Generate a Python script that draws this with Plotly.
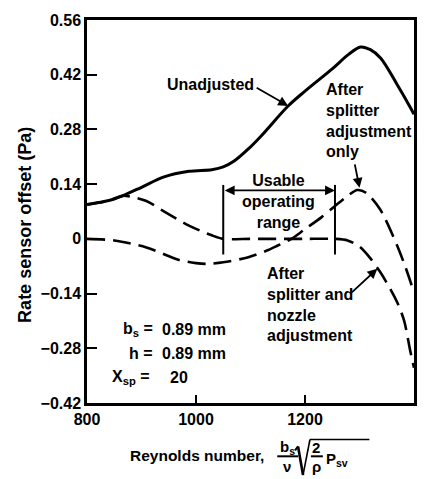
import plotly.graph_objects as go

# Reynolds number samples and rate sensor offset (Pa) for each condition
re_unadjusted = [800, 840, 865, 900, 940, 987, 1029, 1050, 1070, 1096, 1120, 1169, 1200,
                 1250, 1280, 1302, 1320, 1339, 1369, 1393, 1400]
off_unadjusted = [0.088, 0.098, 0.110, 0.132, 0.158, 0.173, 0.177, 0.184, 0.199, 0.230,
                  0.264, 0.340, 0.378, 0.435, 0.472, 0.491, 0.484, 0.462, 0.395, 0.337,
                  0.319]

re_splitter = [800, 850, 909, 969, 1000, 1020, 1050, 1096, 1130, 1150, 1175, 1200,
               1230, 1255, 1280, 1296, 1312, 1338, 1369, 1385, 1400]
off_splitter = [0.0, -0.004, -0.022, -0.054, -0.062, -0.064, -0.060, -0.047, -0.030,
                -0.017, 0.0, 0.025, 0.055, 0.084, 0.112, 0.125, 0.118, 0.075, -0.017,
                -0.075, -0.137]

re_nozzle = [800, 840, 865, 880, 909, 945, 987, 1029, 1050, 1100, 1150, 1200, 1255,
             1278, 1300, 1320, 1338, 1356, 1370, 1382, 1393, 1400]
off_nozzle = [0.088, 0.098, 0.110, 0.108, 0.097, 0.067, 0.034, 0.009, 0.0, 0.0, 0.0,
              0.0, 0.0, -0.004, -0.020, -0.050, -0.085, -0.127, -0.165, -0.210, -0.286,
              -0.330]

usable_range = [1050, 1255]

x_ticks = [800, 1000, 1200, 1400]
y_ticks = [-0.42, -0.28, -0.14, 0, 0.14, 0.28, 0.42, 0.56]
y_tick_text = ["\u22120.42", "\u22120.28", "\u22120.14", "0", "0.14", "0.28", "0.42", "0.56"]

W, H = 429, 479
ML, MR, MT, MB = 87, 12, 15, 76
PW, PH = W - ML - MR, H - MT - MB

FONT = "Liberation Sans, Arial, Helvetica, sans-serif"
INK = "black"


def fx(px):
    return (px - ML) / PW


def fy(py):
    return (MT + PH - py) / PH


def bold(size):
    return dict(family=FONT, size=size, color=INK, weight="bold")


fig = go.Figure()

dash = "18px,8px"
fig.add_trace(go.Scatter(x=re_nozzle, y=off_nozzle, mode="lines",
                         line=dict(color=INK, width=2.6, dash=dash, shape="spline", smoothing=0.8),
                         hoverinfo="skip"))
fig.add_trace(go.Scatter(x=re_splitter, y=off_splitter, mode="lines",
                         line=dict(color=INK, width=2.6, dash=dash, shape="spline", smoothing=0.8),
                         hoverinfo="skip"))
fig.add_trace(go.Scatter(x=re_unadjusted, y=off_unadjusted, mode="lines",
                         line=dict(color=INK, width=3, shape="spline", smoothing=0.9),
                         hoverinfo="skip"))

ann = []


def text(t, x, y, size=16, xanchor="left", align="left", **kw):
    ann.append(dict(text=t, x=fx(x), y=fy(y), xref="paper", yref="paper",
                    xanchor=xanchor, yanchor="middle", align=align, showarrow=False,
                    font=bold(size), **kw))


def arrow(hx, hy, tx, ty):
    ann.append(dict(text="", x=fx(hx), y=fy(hy), xref="paper", yref="paper",
                    ax=tx - hx, ay=ty - hy, showarrow=True, arrowhead=2, arrowsize=1.1,
                    arrowwidth=1.8, arrowcolor=INK))


# curve labels
text("Unadjusted", 166, 80)
arrow(290, 102, 257, 83)
text("After<br>splitter<br>adjustment<br>only", 326, 117)
arrow(362, 185, 357, 160)
text("After<br>splitter and<br>nozzle<br>adjustment", 267, 303)
arrow(380, 267, 353, 292)
text("Usable<br>operating<br>range", 280, 199, xanchor="center", align="center")

# geometry parameters
text("b<sub>s</sub> =", 156, 329, xanchor="right")
text("0.89 mm", 161, 329)
text("h =", 156, 353, xanchor="right")
text("0.89 mm", 161, 353)
text("X<sub>sp</sub> =", 153, 377, xanchor="right")
text("20", 169, 377)

# usable operating range bracket
ann.append(dict(text="", x=usable_range[1], y=0.124, xref="x", yref="y",
                ax=usable_range[0], ay=0.124, axref="x", ayref="y",
                showarrow=True, arrowside="end+start", arrowhead=2, arrowsize=1.1,
                arrowwidth=1.8, arrowcolor=INK))
shapes = []
for r in usable_range:
    shapes.append(dict(type="line", xref="x", yref="y", x0=r, x1=r, y0=-0.04, y1=0.138,
                       line=dict(color=INK, width=2)))

# axis titles
text("Rate sensor offset (Pa)", 25, 223, size=18, xanchor="center", align="center",
     textangle=-90)
text("Reynolds number,", 268, 456, size=15.5, xanchor="right")
text("b<sub>s</sub>", 289, 448, size=15, xanchor="center")
text("\u03bd", 289, 467, size=15, xanchor="center")
text("2", 318, 448, size=15, xanchor="center")
text("\u03c1", 319, 467, size=15, xanchor="center")
text("P<sub>sv</sub>", 326, 460, size=15)


def seg(x0, y0, x1, y1, w=2):
    shapes.append(dict(type="line", xref="paper", yref="paper",
                       x0=fx(x0), y0=fy(y0), x1=fx(x1), y1=fy(y1),
                       line=dict(color=INK, width=w)))


seg(279, 457, 300, 457)
seg(313, 457, 325, 457)
seg(297, 451, 300, 447, 2)
seg(300, 447, 305, 476, 2.6)
seg(305, 476, 312, 440, 1.6)
seg(312, 440, 372, 440, 1.6)

axis_common = dict(showline=True, linewidth=2.5, linecolor=INK, mirror=True,
                   showgrid=False, zeroline=False, ticks="inside", tickwidth=2,
                   tickcolor=INK, tickfont=bold(16))

fig.update_layout(
    width=W, height=H,
    margin=dict(l=ML, r=MR, t=MT, b=MB),
    paper_bgcolor="white", plot_bgcolor="white",
    showlegend=False,
    xaxis=dict(range=[800, 1400], tickvals=x_ticks, ticklen=8, **axis_common),
    yaxis=dict(range=[-0.42, 0.56], tickvals=y_ticks, ticktext=y_tick_text, ticklen=10,
               **axis_common),
    annotations=ann,
    shapes=shapes,
)

fig.write_html("out.html")
